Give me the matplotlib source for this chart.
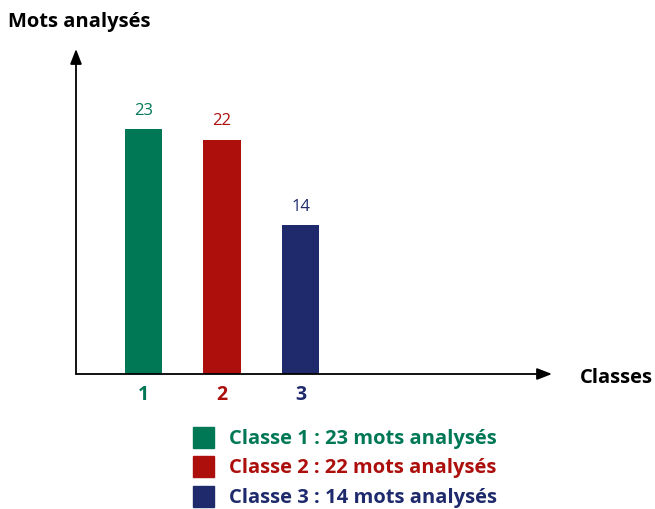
"""Bar chart: number of analysed words per class."""
import matplotlib
matplotlib.use('Agg')
import matplotlib.pyplot as plt

# Data
classes = [1, 2, 3]
tick_labels = ['1', '2', '3']
mots = [23, 22, 14]
legend_labels = ['Classe 1 : 23 mots analysés',
                 'Classe 2 : 22 mots analysés',
                 'Classe 3 : 14 mots analysés']
colors = ['#007856', '#AC0F0C', '#1E2A6C']

plt.rcParams['font.family'] = ['Open Sans', 'DejaVu Sans']

W, H = 655, 510
fig = plt.figure(figsize=(W / 100, H / 100), dpi=100)

# axes placed so that the drawn arrows match the reference
x0, x1 = 76, 552      # pixel x of y-axis and tip of x arrow
y0, y1 = 375, 50      # pixel y of x-axis and tip of y arrow
ax = fig.add_axes([x0 / W, 1 - y0 / H, (x1 - x0) / W, (y0 - y1) / H])
ax.set_xlim(0.14, 6.2)
ax.set_ylim(0, 30.5)
ax.axis('off')

ax.bar(classes, mots, width=0.48, color=colors)
for x, v, c in zip(classes, mots, colors):
    ax.annotate(str(v), (x, v), xytext=(0, 8), textcoords='offset points',
                ha='center', va='bottom', color=c, fontsize=12)
for x, lab, c in zip(classes, tick_labels, colors):
    ax.annotate(lab, (x, 0), xytext=(0, -14.5), textcoords='offset points',
                ha='center', va='center', color=c, fontsize=14,
                fontweight='bold')

# axis arrows
arrow = dict(arrowstyle='-|>,head_length=0.9,head_width=0.35', color='black',
             lw=1.3, shrinkA=0, shrinkB=0)
ax.annotate('', xy=(1, 0), xytext=(0, 0), xycoords='axes fraction',
            arrowprops=arrow)
ax.annotate('', xy=(0, 1), xytext=(0, 0), xycoords='axes fraction',
            arrowprops=arrow)

fig.text(8 / W, 1 - 22 / H, 'Mots analysés', ha='left', va='center',
         fontsize=14.5, fontweight='bold')
fig.text(580 / W, 1 - 378 / H, 'Classes', ha='left', va='center',
         fontsize=14.5, fontweight='bold')

# legend drawn by hand
for i, (lab, c) in enumerate(zip(legend_labels, colors)):
    yc = 438 + i * 29.5
    fig.patches.append(plt.Rectangle((193 / W, 1 - (yc + 10.5) / H),
                                     21 / W, 21 / H, color=c,
                                     transform=fig.transFigure, figure=fig))
    fig.text(229 / W, 1 - (yc + 1) / H, lab, ha='left', va='center', color=c,
             fontsize=14.5, fontweight='bold')

fig.savefig('out.png', dpi=100)
